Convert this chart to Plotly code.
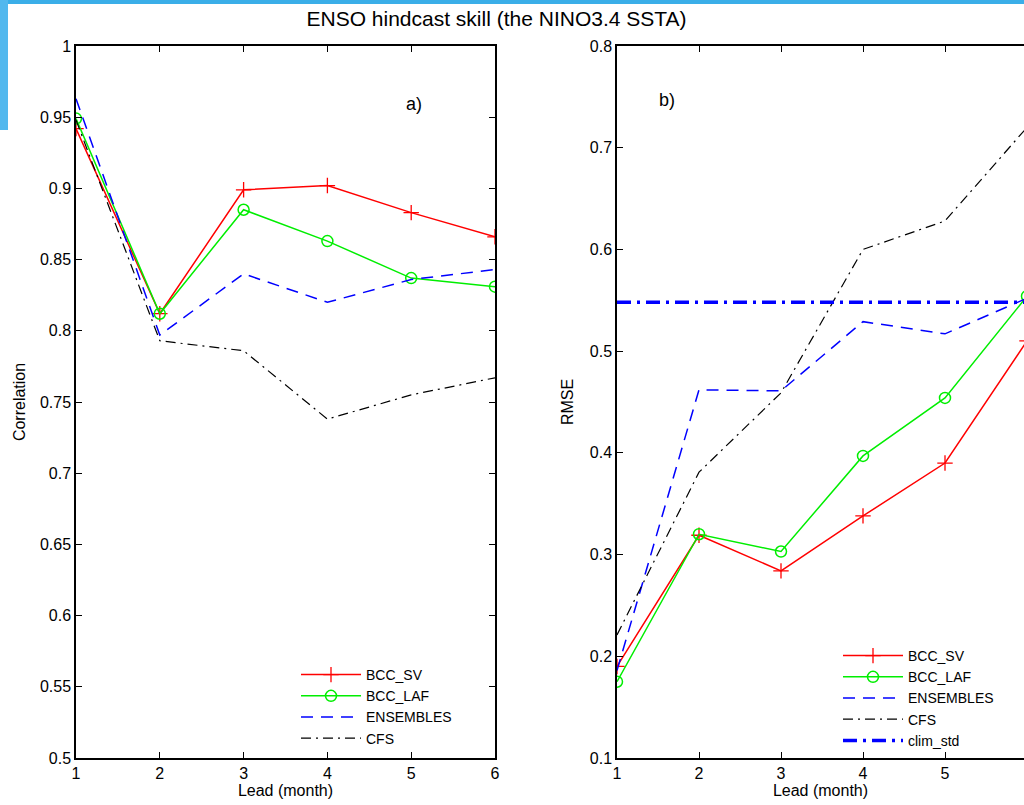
import plotly.graph_objects as go

# ---------------- data ----------------
leads = [1, 2, 3, 4, 5, 6]

corr_bcc_sv = [0.942, 0.812, 0.899, 0.902, 0.883, 0.866]
corr_bcc_laf = [0.949, 0.812, 0.885, 0.863, 0.837, 0.831]
corr_ensembles = [0.963, 0.797, 0.840, 0.820, 0.836, 0.843]
corr_cfs = [0.948, 0.793, 0.786, 0.738, 0.755, 0.767]

rmse_bcc_sv = [0.190, 0.319, 0.284, 0.338, 0.390, 0.510]
rmse_bcc_laf = [0.175, 0.320, 0.303, 0.397, 0.454, 0.554]
rmse_ensembles = [0.186, 0.462, 0.461, 0.529, 0.517, 0.552]
rmse_cfs = [0.221, 0.381, 0.459, 0.600, 0.628, 0.720]
rmse_clim_std = [0.548, 0.548, 0.548, 0.548, 0.548, 0.548]

corr_ticks = [0.5, 0.55, 0.6, 0.65, 0.7, 0.75, 0.8, 0.85, 0.9, 0.95, 1.0]
corr_ticktext = ["0.5", "0.55", "0.6", "0.65", "0.7", "0.75", "0.8", "0.85", "0.9", "0.95", "1"]
rmse_ticks = [0.1, 0.2, 0.3, 0.4, 0.5, 0.6, 0.7, 0.8]
rmse_ticktext = ["0.1", "0.2", "0.3", "0.4", "0.5", "0.6", "0.7", "0.8"]

FONT = "Liberation Sans, Arial, Helvetica, sans-serif"
RED, GREEN, BLUE, BLACK = "#ff0000", "#00ee00", "#0000ff", "#000000"
TICK_FS, AXT_FS, LEG_FS = 16, 16, 14

fig = go.Figure()

def add_set(xa, ya, legend, sv, laf, ens, cfs):
    fig.add_trace(go.Scatter(x=leads, y=sv, name="BCC_SV", mode="lines+markers",
                             line=dict(color=RED, width=1.5),
                             marker=dict(symbol="cross-thin", size=11, color=RED,
                                         line=dict(color=RED, width=1.3)),
                             xaxis=xa, yaxis=ya, legend=legend, cliponaxis=True))
    fig.add_trace(go.Scatter(x=leads, y=laf, name="BCC_LAF", mode="lines+markers",
                             line=dict(color=GREEN, width=1.5),
                             marker=dict(symbol="circle-open", size=11, color=GREEN,
                                         line=dict(color=GREEN, width=1.5)),
                             xaxis=xa, yaxis=ya, legend=legend, cliponaxis=True))
    fig.add_trace(go.Scatter(x=leads, y=ens, name="ENSEMBLES", mode="lines",
                             line=dict(color=BLUE, width=1.5, dash="12px,8px"),
                             xaxis=xa, yaxis=ya, legend=legend))
    fig.add_trace(go.Scatter(x=leads, y=cfs, name="CFS", mode="lines",
                             line=dict(color=BLACK, width=1.2, dash="10px,5px,2px,5px"),
                             xaxis=xa, yaxis=ya, legend=legend))

add_set("x", "y", "legend", corr_bcc_sv, corr_bcc_laf, corr_ensembles, corr_cfs)
add_set("x2", "y2", "legend2", rmse_bcc_sv, rmse_bcc_laf, rmse_ensembles, rmse_cfs)
fig.add_trace(go.Scatter(x=leads, y=rmse_clim_std, name="clim_std", mode="lines",
                         line=dict(color=BLUE, width=3.5, dash="14px,6px,3px,6px"),
                         xaxis="x2", yaxis="y2", legend="legend2"))

# page geometry (pixels)
W, H = 1024, 805
ML, MR, MT, MB = 76, 0, 46, 47
PW = W - ML - MR
PH = H - MT - MB

def px_x(p):
    return (p - ML) / PW

def px_y(p):
    return (H - MB - p) / PH

axis_common = dict(showline=True, linecolor="black", linewidth=1.5, mirror="ticks",
                   ticks="inside", ticklen=6, tickwidth=1, tickcolor="black",
                   showgrid=False, zeroline=False,
                   tickfont=dict(family=FONT, size=TICK_FS, color="black"))

fig.update_layout(
    width=W, height=H,
    margin=dict(l=ML, r=MR, t=MT, b=MB, autoexpand=False),
    paper_bgcolor="white", plot_bgcolor="white",
    font=dict(family=FONT, color="black"),
    title=dict(text="ENSO hindcast skill (the NINO3.4 SSTA)", x=496.5 / W, xanchor="center",
               y=1 - 19 / H, yanchor="middle", font=dict(family=FONT, size=21, color="black")),
    xaxis=dict(domain=[0, px_x(495)], range=[1, 6], anchor="y",
               tickvals=leads, ticktext=[str(v) for v in leads],
               title=dict(text="Lead (month)", font=dict(family=FONT, size=AXT_FS), standoff=4),
               **axis_common),
    yaxis=dict(domain=[0, 1], range=[0.5, 1.0], anchor="x",
               tickvals=corr_ticks, ticktext=corr_ticktext,
               title=dict(text="Correlation", font=dict(family=FONT, size=AXT_FS), standoff=10),
               **axis_common),
    xaxis2=dict(domain=[px_x(617), 1.0], range=[1, 1 + (1024 - 617) / 82.0], anchor="y2",
                tickvals=leads, ticktext=[str(v) for v in leads],
                title=dict(text="Lead (month)", font=dict(family=FONT, size=AXT_FS), standoff=4),
                **axis_common),
    yaxis2=dict(domain=[0, 1], range=[0.1, 0.8], anchor="x2",
                tickvals=rmse_ticks, ticktext=rmse_ticktext,
                showline=True, linecolor="black", linewidth=1.5, mirror=False,
                ticks="inside", ticklen=6, tickwidth=1, tickcolor="black",
                showgrid=False, zeroline=False,
                tickfont=dict(family=FONT, size=TICK_FS, color="black"),
                title=dict(text="RMSE", font=dict(family=FONT, size=AXT_FS), standoff=12)),
    yaxis3=dict(overlaying="y2", side="right", anchor="x2", range=[0.1, 0.8],
                tickvals=rmse_ticks, showticklabels=False, showline=False,
                ticks="inside", ticklen=6, tickwidth=1, tickcolor="black",
                showgrid=False, zeroline=False),
    legend=dict(x=px_x(296), y=px_y(659), xanchor="left", yanchor="top",
                bgcolor="rgba(255,255,255,0)", borderwidth=0, tracegroupgap=0,
                font=dict(family=FONT, size=LEG_FS, color="black"), itemwidth=60),
    legend2=dict(x=px_x(838), y=px_y(640), xanchor="left", yanchor="top",
                 bgcolor="rgba(255,255,255,0)", borderwidth=0, tracegroupgap=0,
                 font=dict(family=FONT, size=LEG_FS, color="black"), itemwidth=60),
    annotations=[
        dict(text="a)", xref="x domain", yref="y domain", x=(414 - 76) / 419, y=1 - (104 - 46) / 712,
             xanchor="center", yanchor="middle",
             showarrow=False, font=dict(family=FONT, size=18, color="black")),
        dict(text="b)", xref="x2 domain", yref="y2 domain", x=(667 - 617) / 410, y=1 - (100 - 46) / 712,
             xanchor="center", yanchor="middle",
             showarrow=False, font=dict(family=FONT, size=18, color="black")),
    ],
    shapes=[
        dict(type="rect", xref="paper", yref="paper", x0=px_x(0), x1=px_x(1024),
             y0=px_y(4), y1=px_y(0), fillcolor="#3aaee8", line=dict(width=0), layer="below"),
        dict(type="rect", xref="paper", yref="paper", x0=px_x(0), x1=px_x(8),
             y0=px_y(130), y1=px_y(0), fillcolor="#52b8ee", line=dict(width=0), layer="below"),
    ],
)

fig.write_html("out.html")
